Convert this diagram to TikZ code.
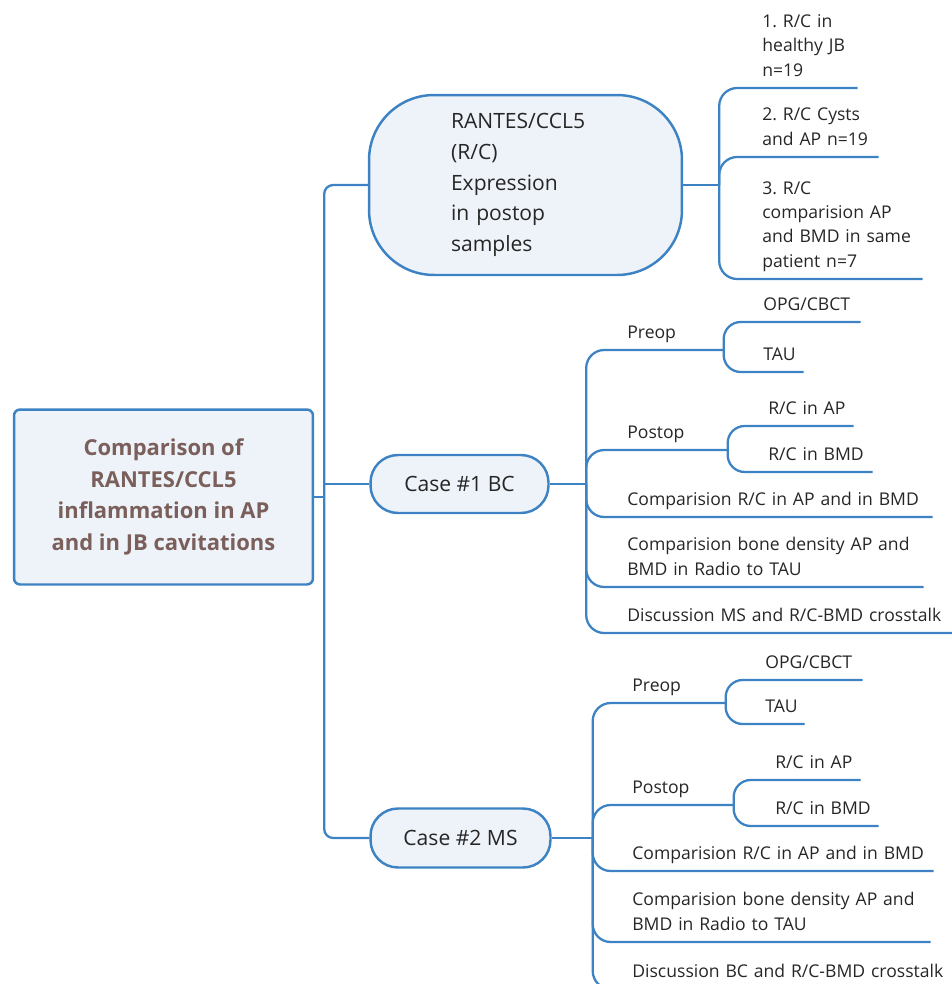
\documentclass[tikz,border=0pt]{standalone}
\usepackage{fontspec}
\setmainfont{Open Sans}
\usetikzlibrary{calc}
\definecolor{mapline}{RGB}{61,131,196}
\definecolor{mapfill}{RGB}{238,243,250}
\definecolor{maptext}{RGB}{122,95,91}
\frenchspacing
\begin{document}
\begin{tikzpicture}[x=0.02cm, y=-0.02cm,
link/.style={draw=mapline, line width=1.3pt, rounded corners=0.36cm},
fork/.style={link, rounded corners=0.34cm},
topic/.style={draw=mapline, fill=mapfill, line width=1.4pt, text=black!85},
leaf/.style={anchor=south west, inner xsep=0pt, inner ysep=4pt, align=left, text=black!85, font=\fontsize{10}{13.9}\selectfont, execute at end node={\vphantom{pg}}}]
\useasboundingbox (0,0) rectangle (952,984);
\node[topic, rounded corners=0.12cm, minimum width=5.98cm, minimum height=3.5cm, align=center, text=maptext, font=\bfseries\fontsize{12.5}{18}\selectfont] (main) at (163.5,497) {Comparison of\\RANTES/CCL5\\inflammation in AP\\and in JB cavitations};
\node[topic, rounded corners=1.3cm, minimum width=6.26cm, minimum height=3.6cm, text width=2.98cm, align=left, font=\fontsize{12}{17.4}\selectfont] (top) at (525.5,185) {RANTES/CCL5\\(R/C)\\Expression\\in postop\\samples};
\node[topic, rounded corners=0.55cm, minimum width=3.56cm, minimum height=1.16cm, font=\fontsize{12}{14}\selectfont] (case1) at (459.5,484) {Case \#1 BC};
\node[topic, rounded corners=0.55cm, minimum width=3.6cm, minimum height=1.18cm, font=\fontsize{12}{14}\selectfont] (case2) at (460.5,838) {Case \#2 MS};
\coordinate (jroot) at ($(main.east)+(10,0)$);
\coordinate (jtop) at ($(top.east)+(36,0)$);
\coordinate (jc1) at ($(case1.east)+(36.5,0)$);
\coordinate (jc2) at ($(case2.east)+(41,0)$);
% top branch
\node[leaf, text width=1.9cm] (it1) at (762,88) {1. R/C in\\healthy JB\\n=19};
\node[leaf, text width=2.32cm] (it2) at (762,157) {2. R/C Cysts\\and AP n=19};
\node[leaf, text width=3.2cm] (it3) at (762,279) {3. R/C\\comparision AP\\and BMD in same\\patient n=7};
% case 1
\node[leaf, text width=1.92cm] (preop1) at (627,350) {Preop};
\node[leaf, text width=1.94cm] (opg1) at (763,322) {OPG/CBCT};
\node[leaf, text width=0.8cm] (tau1) at (763,372) {TAU};
\node[leaf, text width=2cm] (postop1) at (627,450) {Postop};
\node[leaf, text width=1.7cm] (rcap1) at (768,426) {R/C in AP};
\node[leaf, text width=2.08cm] (rcbmd1) at (768,472) {R/C in BMD};
\node[leaf, text width=6.1cm] (comp1) at (627,517) {Comparision R/C in AP and in BMD};
\node[leaf, text width=5.92cm] (bone1) at (627,587) {Comparision bone density AP and\\BMD in Radio to TAU};
\node[leaf, text width=6.5cm] (disc1) at (627,633) {Discussion MS and R/C-BMD crosstalk};
% case 2
\node[leaf, text width=1.86cm] (preop2) at (632,703) {Preop};
\node[leaf, text width=1.94cm] (opg2) at (765,680) {OPG/CBCT};
\node[leaf, text width=0.78cm] (tau2) at (765,724) {TAU};
\node[leaf, text width=2.02cm] (postop2) at (632,805) {Postop};
\node[leaf, text width=1.7cm] (rcap2) at (775,780) {R/C in AP};
\node[leaf, text width=2.06cm] (rcbmd2) at (775,826) {R/C in BMD};
\node[leaf, text width=6.02cm] (comp2) at (632,871) {Comparision R/C in AP and in BMD};
\node[leaf, text width=5.96cm] (bone2) at (632,942) {Comparision bone density AP and\\BMD in Radio to TAU};
\node[leaf, text width=6.4cm] (disc2) at (632,989) {Discussion BC and R/C-BMD crosstalk};
% connectors
\draw[link] (main.east) -- (jroot);
\draw[link, rounded corners=0.18cm] (top.west) -| (jroot) |- (case2.west);
\draw[link] (jroot |- case1.west) -- (case1.west);
\draw[link] (top.east) -- (jtop);
\foreach \n in {it1,it2,it3} \draw[link] (jtop) |- (\n.south east);
\draw[link] (case1.east) -- (jc1);
\foreach \n in {preop1,postop1,comp1,bone1,disc1} \draw[link] (jc1) |- (\n.south east);
\foreach \n in {opg1,tau1} \draw[fork] (preop1.south east) |- (\n.south east);
\foreach \n in {rcap1,rcbmd1} \draw[fork] (postop1.south east) |- (\n.south east);
\draw[link] (case2.east) -- (jc2);
\foreach \n in {preop2,postop2,comp2,bone2,disc2} \draw[link] (jc2) |- (\n.south east);
\foreach \n in {opg2,tau2} \draw[fork] (preop2.south east) |- (\n.south east);
\foreach \n in {rcap2,rcbmd2} \draw[fork] (postop2.south east) |- (\n.south east);
\end{tikzpicture}
\end{document}
